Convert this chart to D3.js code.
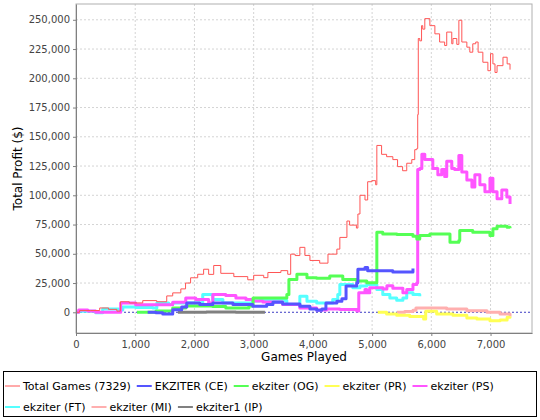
<!DOCTYPE html>
<html>
<head>
<meta charset="utf-8">
<script src="https://cdn.jsdelivr.net/npm/d3@7"></script>
<style>
  body { margin: 0; background: #fff; }
  svg { display: block; font-family: "DejaVu Sans", sans-serif; }
</style>
</head>
<body>
<div class="canvas"></div>
<script>
// series values, [games played, total profit]
const totalGames = [[0,0],[60,1500],[250,1500],[400,3700],[550,2500],[690,1000],[750,9000],[900,8000],[1127,10000],[1363,9000],[1532,14000],[1633,16600],[1770,20000],[1850,25000],[1935,29500],[2055,32500],[2155,36800],[2240,32400],[2325,40000],[2445,33300],[2665,30500],[2900,27800],[3000,31600],[3170,29600],[3240,34000],[3460,35600],[3575,32500],[3625,49700],[3700,48500],[3780,55500],[3865,48600],[3950,44300],[4115,42000],[4255,49700],[4405,54000],[4455,64000],[4575,78000],[4620,74500],[4735,72000],[4760,84000],[4795,100000],[4880,96000],[4925,111600],[4995,112500],[5060,109000],[5080,142600],[5160,135000],[5245,133000],[5350,130500],[5430,124500],[5515,121000],[5585,127400],[5670,130500],[5720,139000],[5755,140000],[5770,169000],[5780,234000],[5805,232000],[5835,245000],[5855,242000],[5890,251000],[5975,245000],[6060,238000],[6140,231000],[6225,228000],[6260,239500],[6345,229500],[6365,234000],[6430,229000],[6465,249600],[6515,231000],[6600,226600],[6650,222300],[6700,229500],[6750,231000],[6790,222300],[6870,213700],[6955,206500],[7000,221000],[7040,212300],[7075,205000],[7110,210800],[7160,210800],[7210,218000],[7280,212300],[7329,207400]];
const ekziterCE = [[1210,0],[1350,-300],[1465,-1500],[1633,2200],[1785,4500],[1870,8000],[2090,6600],[2310,8000],[2650,6600],[2985,5200],[3220,6600],[3325,8600],[3490,7000],[3780,5200],[3950,2800],[4065,1700],[4150,2800],[4220,8000],[4405,9500],[4490,11500],[4560,22400],[4740,25300],[4760,36800],[4880,38200],[4925,35400],[5350,34500],[5635,34500],[5690,37400]];
const ekziterOG = [[1030,0],[1350,1000],[1633,3700],[1853,5400],[2310,5000],[2530,3700],[2920,5400],[2990,12300],[3275,12300],[3560,15200],[3595,28100],[3730,32500],[3900,29600],[4065,29000],[4285,31000],[4505,28100],[4740,26700],[4910,25300],[5045,25300],[5080,68400],[5180,67000],[5420,66500],[5690,65000],[5755,62700],[5805,65600],[5975,67000],[6315,59800],[6465,61300],[6480,69900],[6700,68400],[6990,65600],[7040,71300],[7110,73600],[7280,72700],[7329,71900]];
const ekziterPR = [[5095,0],[5245,-1500],[5415,-2600],[5635,-3500],[5870,-5800],[5905,900],[6090,-1500],[6365,-2600],[6600,-4900],[6770,-5800],[6990,-7200],[7160,-6500],[7280,-4300],[7329,-3500]];
const ekziterPS = [[0,0],[45,2000],[200,1000],[333,0],[670,0],[755,8000],[1008,6500],[1515,6500],[1633,8600],[1853,12300],[2022,10900],[2240,8000],[2310,15200],[2530,14300],[2700,12300],[2870,10900],[2990,9700],[3155,8900],[3490,6600],[3780,3700],[4065,2000],[4235,2800],[4455,2400],[4740,1100],[4775,16600],[4880,19500],[4910,16600],[4960,21000],[5185,20000],[5250,22700],[5350,20500],[5520,16600],[5585,19500],[5690,23800],[5755,25300],[5770,122000],[5805,123000],[5840,135000],[5890,130500],[6025,123000],[6110,117500],[6175,122000],[6225,116000],[6260,129000],[6345,123000],[6395,122000],[6465,134000],[6515,120000],[6600,113000],[6685,107000],[6735,117500],[6820,109000],[6905,103000],[6990,114500],[7040,103000],[7110,97000],[7190,104500],[7275,98600],[7329,92600]];
const ekziterFT = [[0,0],[45,900],[333,-300],[450,2800],[720,2000],[790,4500],[1010,4000],[1300,3700],[1365,8000],[1565,6600],[1633,8000],[2140,15200],[2310,10900],[2480,8000],[2700,8000],[2985,9700],[3100,10000],[3560,6600],[3780,13800],[3900,9500],[4065,8000],[4335,10900],[4420,15200],[4455,23800],[4575,23800],[4675,21000],[4795,22400],[4910,23800],[5080,19500],[5180,15200],[5300,12300],[5415,10300],[5520,12300],[5585,16600],[5690,15200],[5805,13800]];
const ekziterMI = [[5420,0],[5550,700],[5690,1700],[5740,3700],[6060,3700],[6260,2800],[6600,1400],[6940,0],[7160,-1500],[7329,-3500]];
const ekziter1IP = [[1720,0],[2200,200],[2700,0],[3190,0]];

const seriesNames = ['Total Games (7329)', 'EKZITER (CE)', 'ekziter (OG)', 'ekziter (PR)', 'ekziter (PS)', 'ekziter (FT)', 'ekziter (MI)', 'ekziter1 (IP)'];
const seriesData = [totalGames, ekziterCE, ekziterOG, ekziterPR, ekziterPS, ekziterFT, ekziterMI, ekziter1IP];
const seriesColors = ['#ff5555', '#5555ff', '#55ff55', '#ffff55', '#ff55ff', '#55ffff', '#ffafaf', '#808080'];
const seriesWidths = [1, 3, 3, 3, 3, 3, 3, 3];

const xTicks = [0, 1000, 2000, 3000, 4000, 5000, 6000, 7000];
const yTicks = [0, 25000, 50000, 75000, 100000, 125000, 150000, 175000, 200000, 225000, 250000];

const width = 540, height = 420;
const margin = { top: 4, right: 8, bottom: 87, left: 76 };
const graphWidth = width - margin.left - margin.right;
const graphHeight = height - margin.top - margin.bottom;

const svg = d3.select('.canvas')
  .append('svg')
  .attr('width', width)
  .attr('height', height);

const graph = svg.append('g')
  .attr('transform', `translate(${margin.left}, ${margin.top})`);

const x = d3.scaleLinear().domain([0, 7700]).range([0, graphWidth]);
const y = d3.scaleLinear().domain([-17700, 263500]).range([graphHeight, 0]);

// grid
graph.append('g')
  .selectAll('line.gx')
  .data(xTicks.slice(1))
  .join('line')
  .attr('x1', d => x(d)).attr('x2', d => x(d))
  .attr('y1', 0).attr('y2', graphHeight)
  .attr('stroke', '#d4d4d4').attr('stroke-dasharray', '2,2');
graph.append('g')
  .selectAll('line.gy')
  .data(yTicks)
  .join('line')
  .attr('x1', 0).attr('x2', graphWidth)
  .attr('y1', d => y(d)).attr('y2', d => y(d))
  .attr('stroke', '#d4d4d4').attr('stroke-dasharray', '2,2');

// zero marker
graph.append('line')
  .attr('x1', 0).attr('x2', graphWidth)
  .attr('y1', y(0)).attr('y2', y(0))
  .attr('stroke', '#4a4ad0').attr('stroke-dasharray', '2,2');

// plot outline
graph.append('rect')
  .attr('width', graphWidth).attr('height', graphHeight)
  .attr('fill', 'none').attr('stroke', '#b0b0b0');

const line = d3.line()
  .x(d => x(d[0]))
  .y(d => y(d[1]))
  .curve(d3.curveStepAfter);

// draw last series first so the total line ends up on top
const order = d3.range(seriesData.length).reverse();
graph.append('g')
  .selectAll('path')
  .data(order)
  .join('path')
  .attr('d', i => line(seriesData[i]))
  .attr('fill', 'none')
  .attr('stroke', i => seriesColors[i])
  .attr('stroke-width', i => seriesWidths[i])
  .attr('stroke-linejoin', 'round');

// axes
const xAxis = d3.axisBottom(x).tickValues(xTicks).tickFormat(d3.format(',')).tickSizeInner(3).tickSizeOuter(0);
const yAxis = d3.axisLeft(y).tickValues(yTicks).tickFormat(d3.format(',')).tickSizeInner(3).tickSizeOuter(0);

const xAxisGroup = graph.append('g')
  .attr('transform', `translate(0, ${graphHeight})`)
  .call(xAxis);
const yAxisGroup = graph.append('g').call(yAxis);

[xAxisGroup, yAxisGroup].forEach(g => {
  g.select('.domain').attr('stroke', '#808080');
  g.selectAll('.tick line').attr('stroke', '#808080');
  g.selectAll('text').attr('fill', '#444').style('font-size', '10px').style('font-family', '"DejaVu Sans", sans-serif');
});
xAxisGroup.selectAll('text').attr('dy', '0.9em');

svg.append('text')
  .attr('x', margin.left + graphWidth / 2)
  .attr('y', 361)
  .attr('text-anchor', 'middle')
  .style('font-size', '12px')
  .text('Games Played');

svg.append('text')
  .attr('transform', `translate(22, ${margin.top + graphHeight / 2}) rotate(-90)`)
  .attr('text-anchor', 'middle')
  .style('font-size', '12px')
  .text('Total Profit ($)');

// legend
const legend = svg.append('g');
legend.append('rect')
  .attr('x', 3.5).attr('y', 371.5)
  .attr('width', 533).attr('height', 45)
  .attr('fill', 'none').attr('stroke', '#000');

let lx = 5, ly = 386;
seriesNames.forEach((name, i) => {
  const item = legend.append('g');
  const t = item.append('text')
    .attr('y', ly + 4)
    .style('font-size', '11px')
    .text(name);
  const w = t.node().getComputedTextLength();
  if (lx + 18 + w > 535) { lx = 5; ly += 21; }
  item.append('line')
    .attr('x1', lx).attr('x2', lx + 15)
    .attr('y1', ly).attr('y2', ly)
    .attr('stroke', seriesColors[i])
    .attr('stroke-width', i === 0 ? 1 : 2);
  t.attr('x', lx + 18).attr('y', ly + 4);
  lx += 18 + w + 6;
});
</script>
</body>
</html>
